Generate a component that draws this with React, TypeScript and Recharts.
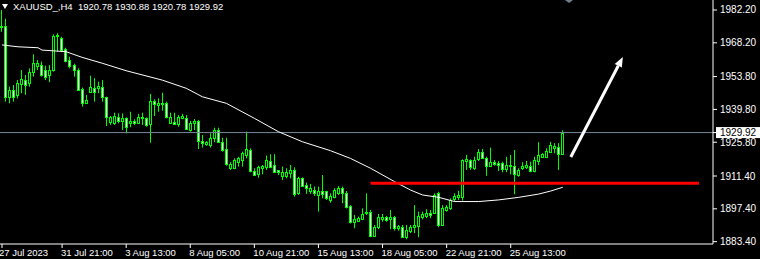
import React from 'react';
import { ComposedChart, Bar, Line, XAxis, YAxis, ReferenceLine } from 'recharts';

// XAUUSD H4 candles, oldest first
const opens = [
  1974.8, 1975.3, 1945.2, 1948.1, 1945.9, 1950.5, 1952.3, 1951.0, 1955.6, 1958.2,
  1958.7, 1956.4, 1954.5, 1956.6, 1971.0, 1970.4, 1965.6, 1960.9, 1958.7, 1956.6,
  1948.5, 1942.4, 1947.4, 1948.8, 1948.9, 1949.5, 1945.0, 1934.6, 1934.1, 1936.4,
  1935.0, 1936.0, 1934.1, 1935.0, 1934.1, 1936.0, 1936.0, 1933.6, 1943.5, 1941.7,
  1942.7, 1942.7, 1934.1, 1934.6, 1933.5, 1936.2, 1936.0, 1931.0, 1933.9, 1934.9,
  1926.3, 1924.9, 1924.6, 1927.5, 1931.0, 1926.0, 1922.9, 1914.7, 1914.7, 1917.5,
  1918.2, 1920.4, 1922.5, 1913.5, 1912.1, 1915.0, 1915.4, 1917.8, 1916.1, 1914.0,
  1911.5, 1911.3, 1912.8, 1914.0, 1904.1, 1910.4, 1907.6, 1905.2, 1905.5, 1903.3,
  1905.0, 1905.0, 1901.2, 1902.6, 1904.3, 1906.2, 1904.3, 1898.6, 1891.9, 1892.3,
  1892.9, 1895.5, 1896.2, 1885.8, 1889.5, 1893.1, 1893.8, 1892.9, 1893.8, 1889.1,
  1889.5, 1885.5, 1888.1, 1889.5, 1890.1, 1894.1, 1894.4, 1895.8, 1895.5, 1904.0,
  1890.5, 1896.9, 1897.6, 1901.5, 1902.3, 1902.3, 1917.9, 1918.2, 1914.9, 1918.7,
  1921.5, 1919.2, 1915.8, 1917.3, 1916.8, 1916.8, 1914.4, 1916.1, 1915.8, 1911.8,
  1915.0, 1915.2, 1915.8, 1913.5, 1917.8, 1919.6, 1919.6, 1921.8, 1923.5, 1923.9,
  1920.78,
];
const highs = [
  1982.2, 1978.5, 1949.5, 1950.2, 1952.3, 1956.6, 1954.5, 1957.3, 1963.3, 1960.9,
  1960.2, 1958.4, 1958.7, 1971.8, 1972.3, 1970.8, 1966.1, 1962.3, 1959.3, 1957.3,
  1949.1, 1946.0, 1954.2, 1953.1, 1951.6, 1952.3, 1945.2, 1937.0, 1938.4, 1938.1,
  1938.1, 1936.4, 1938.8, 1935.6, 1937.9, 1938.4, 1936.4, 1946.4, 1944.1, 1944.5,
  1946.9, 1943.1, 1938.4, 1938.4, 1937.4, 1937.9, 1937.4, 1934.9, 1935.7, 1935.3,
  1928.9, 1926.3, 1929.6, 1932.0, 1932.0, 1927.7, 1927.7, 1917.3, 1918.9, 1919.6,
  1921.8, 1930.3, 1923.2, 1914.7, 1915.8, 1916.1, 1920.1, 1920.7, 1920.7, 1914.0,
  1915.4, 1914.7, 1916.1, 1915.1, 1911.1, 1910.8, 1908.6, 1908.0, 1906.9, 1906.9,
  1911.8, 1905.1, 1904.0, 1906.2, 1907.1, 1906.9, 1905.0, 1899.0, 1894.8, 1894.1,
  1897.6, 1904.0, 1896.9, 1890.5, 1895.2, 1895.2, 1894.4, 1896.9, 1894.4, 1890.5,
  1890.5, 1890.5, 1890.5, 1899.0, 1896.2, 1896.2, 1897.2, 1896.9, 1904.0, 1904.7,
  1899.0, 1899.0, 1901.9, 1904.0, 1905.1, 1918.5, 1920.4, 1918.5, 1919.6, 1922.9,
  1922.9, 1919.6, 1923.5, 1918.2, 1917.8, 1917.5, 1919.6, 1920.4, 1922.5, 1914.7,
  1917.3, 1917.8, 1917.5, 1919.6, 1925.8, 1921.1, 1923.2, 1926.0, 1925.4, 1925.4,
  1930.88,
];
const lows = [
  1972.9, 1943.1, 1942.4, 1943.1, 1944.5, 1946.7, 1946.0, 1949.5, 1953.8, 1956.6,
  1953.8, 1952.3, 1951.4, 1955.9, 1964.4, 1964.4, 1959.9, 1957.3, 1953.8, 1947.7,
  1941.0, 1942.1, 1947.1, 1943.1, 1946.7, 1943.1, 1932.7, 1933.2, 1933.2, 1933.9,
  1931.0, 1929.6, 1932.2, 1933.2, 1933.6, 1933.2, 1932.4, 1925.6, 1937.0, 1938.8,
  1939.3, 1936.0, 1933.6, 1933.2, 1932.4, 1935.6, 1931.0, 1930.3, 1931.0, 1922.9,
  1923.5, 1924.3, 1923.5, 1925.8, 1925.8, 1921.8, 1915.8, 1914.0, 1914.3, 1915.4,
  1915.4, 1918.9, 1913.0, 1911.5, 1910.7, 1912.1, 1914.0, 1914.7, 1912.8, 1911.8,
  1909.7, 1910.4, 1910.4, 1902.6, 1903.3, 1906.8, 1903.8, 1903.8, 1902.9, 1896.2,
  1901.9, 1901.2, 1900.0, 1901.9, 1903.3, 1899.8, 1897.6, 1891.2, 1889.1, 1891.9,
  1892.6, 1894.8, 1885.3, 1885.5, 1888.7, 1891.9, 1891.9, 1888.7, 1888.1, 1888.1,
  1885.3, 1884.4, 1887.0, 1887.0, 1885.3, 1892.9, 1893.4, 1893.4, 1895.2, 1889.5,
  1890.1, 1896.2, 1896.9, 1900.5, 1901.2, 1900.9, 1914.0, 1914.0, 1914.0, 1917.8,
  1918.7, 1911.5, 1915.4, 1915.8, 1913.5, 1913.0, 1913.0, 1912.1, 1903.6, 1911.1,
  1914.0, 1914.4, 1913.0, 1913.0, 1916.1, 1919.2, 1919.2, 1921.5, 1921.1, 1914.0,
  1920.78,
];
const closes = [
  1975.5, 1945.2, 1948.1, 1945.3, 1950.9, 1952.8, 1950.4, 1955.6, 1959.5, 1959.5,
  1954.5, 1953.8, 1956.6, 1971.2, 1971.5, 1965.1, 1960.5, 1958.4, 1956.6, 1948.1,
  1942.4, 1943.8, 1949.5, 1947.1, 1949.8, 1945.0, 1936.4, 1936.4, 1937.0, 1935.0,
  1936.1, 1932.2, 1935.0, 1933.9, 1936.7, 1936.7, 1933.2, 1943.5, 1942.1, 1942.7,
  1941.9, 1936.4, 1936.4, 1933.6, 1936.4, 1937.0, 1931.3, 1933.9, 1934.9, 1926.3,
  1925.4, 1925.8, 1927.5, 1931.0, 1926.0, 1922.5, 1916.4, 1916.4, 1918.2, 1918.9,
  1921.1, 1922.9, 1913.5, 1911.8, 1915.4, 1915.8, 1918.2, 1915.4, 1913.2, 1913.3,
  1913.2, 1913.2, 1914.0, 1903.8, 1910.4, 1907.1, 1906.2, 1906.2, 1904.3, 1905.0,
  1903.6, 1902.2, 1902.9, 1905.5, 1906.2, 1904.1, 1898.3, 1891.9, 1892.9, 1893.4,
  1895.2, 1896.2, 1885.8, 1889.5, 1893.8, 1894.1, 1892.6, 1894.1, 1889.1, 1890.1,
  1885.5, 1888.4, 1889.5, 1890.5, 1894.4, 1895.2, 1895.5, 1894.8, 1903.3, 1890.5,
  1897.6, 1898.0, 1901.2, 1902.9, 1903.3, 1918.2, 1918.5, 1915.4, 1918.2, 1921.5,
  1919.2, 1915.8, 1917.3, 1916.6, 1916.1, 1914.4, 1916.1, 1915.5, 1912.1, 1914.0,
  1915.8, 1916.1, 1913.5, 1918.2, 1920.4, 1920.7, 1922.1, 1924.6, 1924.3, 1920.8,
  1929.92,
];

// moving average, read at a handful of bars
const maBars = [0, 4, 9, 10, 16, 20, 25, 31, 40, 46, 50, 56, 63, 69, 75, 82, 87, 92, 98, 102, 105, 109, 113, 119, 124, 129, 134, 137, 140];
const maValues = [
  1967.3, 1966.5, 1966.1, 1965.1, 1964.4, 1962.0, 1959.5, 1956.3, 1952.3, 1948.8,
  1945.2, 1942.4, 1936.0, 1930.3, 1926.0, 1922.2, 1918.9, 1914.7, 1909.0, 1905.4,
  1903.3, 1902.3, 1900.5, 1900.5, 1901.2, 1902.3, 1903.7, 1905.0, 1906.6,
];

const xTickBars = [0, 15, 31, 47, 63, 79, 95, 111, 127];
const xTickLabels = [
  '27 Jul 2023', '31 Jul 21:00', '3 Aug 13:00', '8 Aug 05:00', '10 Aug 21:00',
  '15 Aug 13:00', '18 Aug 05:00', '22 Aug 21:00', '25 Aug 13:00',
];
const lastPrice = 1929.92;
const priceTicks = [1982.2, 1968.2, 1953.8, 1939.8, lastPrice, 1925.8, 1911.4, 1897.4, 1883.4];

const SLOTS = 178; // bars + empty shift area on the right
const supportPrice = 1908.3;
const supportFrom = 92;
const supportTo = 174;
const arrowStart = { bar: 142, price: 1919.5 };
const arrowEnd = { bar: 155, price: 1962.2 };

const FONT = '"Liberation Sans", Arial, sans-serif';

const rows = Array.from({ length: SLOTS }, (_, i) => {
  const k = maBars.indexOf(i);
  return {
    i,
    open: opens[i],
    high: highs[i],
    low: lows[i],
    close: closes[i],
    ma: k >= 0 ? maValues[k] : null,
  };
});

const Candle = (props: any) => {
  let { x, y, width, height, payload } = props;
  if (!payload || payload.open == null) return null;
  if (height < 0) {
    y += height;
    height = -height;
  }
  const { open, close, high, low } = payload;
  const k = height / (high - low || 1);
  const yOf = (v: number) => y + (high - v) * k;
  const cx = Math.floor(x + width / 2) + 0.5;
  const top = Math.round(yOf(Math.max(open, close)));
  const bot = Math.round(yOf(Math.min(open, close)));
  const bull = close >= open;
  return (
    <g>
      <line x1={cx} x2={cx} y1={y} y2={y + height} stroke="#00ff00" strokeWidth={1} />
      <rect
        x={cx - 1}
        y={top + 0.5}
        width={2}
        height={Math.max(bot - top, 1)}
        fill={bull ? '#000' : '#fff'}
        stroke="#00ff00"
        strokeWidth={1}
      />
    </g>
  );
};

const NoDot = () => <g />;

const PriceTick = (props: any) => {
  const { x, y, payload } = props;
  const v = payload.value;
  if (v === lastPrice) {
    return (
      <g>
        <rect x={x - 3} y={y - 5.5} width={44} height={11} fill="#fff" />
        <text x={x + 1} y={y} dy={3.5} fill="#000" fontSize={10} fontFamily={FONT}>
          {v.toFixed(2)}
        </text>
      </g>
    );
  }
  return (
    <text x={x + 1} y={y} dy={3.5} fill="#fff" fontSize={10} fontFamily={FONT}>
      {v.toFixed(2)}
    </text>
  );
};

const TimeTick = (props: any) => {
  const { x, y, payload } = props;
  const k = xTickBars.indexOf(payload.value);
  if (k < 0) return null;
  return (
    <text x={x - (k === 0 ? 3 : 1)} y={y} dy={6} fill="#fff" fontSize={9.5} fontFamily={FONT}>
      {xTickLabels[k]}
    </text>
  );
};

const Arrow = (props: any) => {
  const { x1, y1, x2, y2 } = props;
  const a = Math.atan2(y2 - y1, x2 - x1);
  const bx = x2 - 10 * Math.cos(a);
  const by = y2 - 10 * Math.sin(a);
  const px = -Math.sin(a) * 4;
  const py = Math.cos(a) * 4;
  return (
    <g>
      <line x1={x1} y1={y1} x2={bx} y2={by} stroke="#fff" strokeWidth={3} />
      <polygon points={`${x2},${y2} ${bx + px},${by + py} ${bx - px},${by - py}`} fill="#fff" />
    </g>
  );
};

export default function App() {
  return (
    <div style={{ position: 'absolute', left: 0, top: 0, width: 760, height: 259, background: '#000' }}>
      <ComposedChart width={760} height={259} data={rows} margin={{ top: 0, right: 0, bottom: 0, left: 0 }}>
        <XAxis
          dataKey="i"
          type="category"
          interval={0}
          ticks={xTickBars}
          tick={<TimeTick />}
          tickSize={4}
          tickLine={{ stroke: '#fff' }}
          axisLine={{ stroke: '#fff' }}
          height={15}
        />
        <YAxis
          orientation="right"
          width={47}
          domain={[1882.4, 1986.46]}
          allowDataOverflow
          ticks={priceTicks}
          interval={0}
          tick={<PriceTick />}
          tickSize={4}
          tickLine={{ stroke: '#fff' }}
          axisLine={{ stroke: '#fff' }}
        />
        <ReferenceLine y={lastPrice} stroke="#778899" strokeWidth={1} />
        <Bar
          dataKey={(d: any) => (d.open == null ? null : [d.low, d.high])}
          shape={<Candle />}
          isAnimationActive={false}
        />
        <Line
          dataKey="ma"
          stroke="#fff"
          strokeWidth={1}
          dot={NoDot}
          activeDot={false}
          connectNulls
          isAnimationActive={false}
        />
        <ReferenceLine
          segment={[
            { x: supportFrom, y: supportPrice },
            { x: supportTo, y: supportPrice },
          ]}
          stroke="#ff0000"
          strokeWidth={3}
        />
        <ReferenceLine
          segment={[
            { x: arrowStart.bar, y: arrowStart.price },
            { x: arrowEnd.bar, y: arrowEnd.price },
          ]}
          shape={<Arrow />}
        />
      </ComposedChart>
      <div
        style={{
          position: 'absolute',
          left: 2,
          top: 4,
          width: 0,
          height: 0,
          borderLeft: '3.5px solid transparent',
          borderRight: '3.5px solid transparent',
          borderTop: '5px solid #fff',
        }}
      />
      <div
        style={{
          position: 'absolute',
          left: 565,
          top: 0,
          width: 0,
          height: 0,
          borderLeft: '4px solid transparent',
          borderRight: '4px solid transparent',
          borderTop: '3px solid #708090',
        }}
      />
      <div
        style={{
          position: 'absolute',
          left: 13,
          top: 1,
          color: '#fff',
          fontSize: 9.5,
          fontFamily: FONT,
          whiteSpace: 'pre',
          lineHeight: '12px',
        }}
      >
        {'XAUUSD_,H4  1920.78 1930.88 1920.78 1929.92'}
      </div>
    </div>
  );
}
